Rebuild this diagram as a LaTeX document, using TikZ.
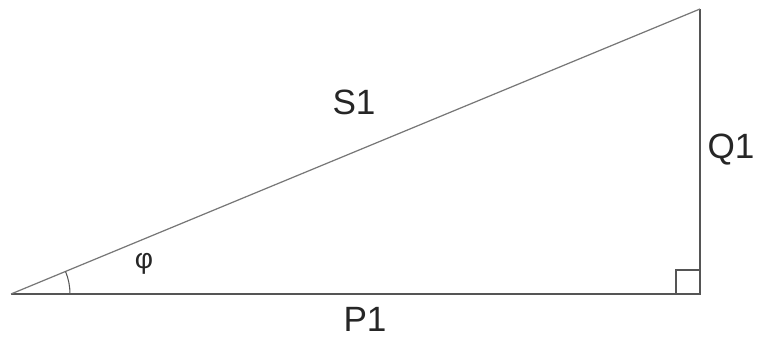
\documentclass[tikz,border=0pt]{standalone}
\usepackage{fontspec}
\setmainfont{Liberation Sans}
\usetikzlibrary{calc}
\definecolor{edge}{HTML}{555555}
\definecolor{hyp}{HTML}{777777}

\begin{document}
\begin{tikzpicture}[
  every node/.style={font=\fontsize{20}{24}\selectfont, text=black!85},
  side/.style={draw=edge, line width=0.8pt},
  hyp_side/.style={draw=hyp, line width=0.7pt},
  anglemark/.style={draw=edge, line width=0.6pt}
]
\useasboundingbox (0,0) rectangle (15.14,6.76);

% triangle corners
\coordinate (A) at (0.22,0.88);
\coordinate (B) at (14.0,0.88);
\coordinate (C) at (14.0,6.58);

% sides
\draw[side] (A) -- (B) -- (C);
\draw[hyp_side] (A) -- (C);

% right angle and angle phi
\draw[anglemark] ($(B)+(-0.48,0)$) |- ($(B)+(0,0.48)$);
\draw[anglemark] ($(A)+(1.18,0)$) arc[start angle=0, end angle={atan(5.70/13.78)}, radius=1.18];

% labels
\node (s1) at (7.08,4.72) {S1};
\node (q1) at (14.62,3.76) {Q1};
\node (p1) at (7.3,0.38) {P1};
\node[font=\fontsize{16}{18}\selectfont] (phi) at (2.88,1.48) {φ};
\end{tikzpicture}
\end{document}
